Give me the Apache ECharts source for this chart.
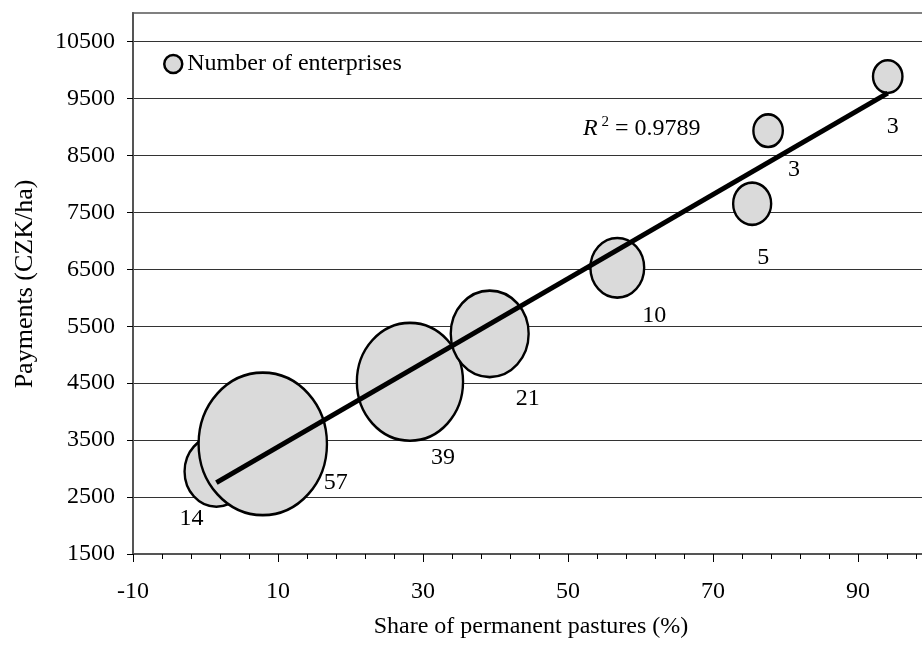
<!DOCTYPE html>
<html>
<head>
<meta charset="utf-8">
<script src="https://cdn.jsdelivr.net/npm/echarts@6/dist/echarts.min.js"></script>
<style>
html,body{margin:0;padding:0;background:#fff;}
#chart{width:922px;height:655px;}
</style>
</head>
<body>
<div id="chart"></div>
<script>
// ---- data ----
const shareOfPastures = [1.5, 7.9, 28.2, 39.2, 56.8, 75.4, 77.6, 94.1];
const payments = [2950, 3433, 4523, 5366, 6526, 7651, 8934, 9883];
const enterprises = [14, 57, 39, 21, 10, 5, 3, 3];
const yTickValues = [1500, 2500, 3500, 4500, 5500, 6500, 7500, 8500, 9500, 10500];
const xTickValues = [-10, 10, 30, 50, 70, 90];
const seriesName = 'Number of enterprises';
const rSquaredText = '0.9789';
const xTitle = 'Share of permanent pastures (%)';
const yTitle = 'Payments (CZK/ha)';

// ---- presentation ----
const FONT = '"Liberation Serif", "Times New Roman", serif';
const labelOffsets = [[-25, 47], [73, 39], [33, 76], [38, 65], [37, 48], [11, 54], [26, 39], [5, 50]];

// linear least squares trend line
const n = shareOfPastures.length;
const mx = shareOfPastures.reduce((a, b) => a + b, 0) / n;
const my = payments.reduce((a, b) => a + b, 0) / n;
let sxy = 0, sxx = 0;
for (let i = 0; i < n; i++) {
  sxy += (shareOfPastures[i] - mx) * (payments[i] - my);
  sxx += (shareOfPastures[i] - mx) ** 2;
}
const slope = sxy / sxx;
const intercept = my - slope * mx;
const xMin = Math.min(...shareOfPastures), xMax = Math.max(...shareOfPastures);
const trend = [[xMin, intercept + slope * xMin], [xMax, intercept + slope * xMax]];

const bubbleData = shareOfPastures.map((x, i) => ({
  value: [x, payments[i], enterprises[i]],
  label: { offset: labelOffsets[i] }
}));

const chart = echarts.init(document.getElementById('chart'));
chart.setOption({
  animation: false,
  backgroundColor: '#fff',
  grid: {
    left: 133, top: 13, bottom: 101, right: -81,
    outerBoundsMode: 'none', containLabel: false,
    show: true, borderColor: '#808080', borderWidth: 2
  },
  legend: {
    data: [seriesName],
    left: 163, top: 52, padding: 0,
    itemWidth: 18, itemHeight: 18,
    itemStyle: { color: '#d9d9d9', borderColor: '#000', borderWidth: 2.5 },
    textStyle: { fontFamily: FONT, fontSize: 24, color: '#000' }
  },
  xAxis: {
    type: 'value', min: -10, max: 110, interval: 20,
    axisLine: { onZero: false, lineStyle: { color: '#555', width: 2 } },
    axisTick: { length: 8, lineStyle: { color: '#000', width: 1 } },
    minorTick: { show: true, splitNumber: 5, length: 5, lineStyle: { color: '#000', width: 1 } },
    splitLine: { show: false },
    axisLabel: {
      customValues: xTickValues,
      formatter: v => String(v),
      fontFamily: FONT, fontSize: 24, color: '#000', margin: 26
    }
  },
  yAxis: {
    type: 'value', min: 1500, max: 11000, interval: 1000,
    axisLine: { show: true, onZero: false, lineStyle: { color: '#555', width: 2 } },
    axisTick: { show: true, customValues: yTickValues, length: 6, lineStyle: { color: '#000', width: 1 } },
    splitLine: { show: true, lineStyle: { color: '#333', width: 1 } },
    axisLabel: {
      customValues: yTickValues,
      formatter: v => String(v),
      fontFamily: FONT, fontSize: 24, color: '#000', margin: 18
    }
  },
  series: [
    {
      name: seriesName,
      type: 'scatter',
      symbol: 'circle',
      symbolSize: v => { const w = 17 * Math.sqrt(v[2]); return [w, w * 1.11]; },
      itemStyle: { color: '#dadada', borderColor: '#000', borderWidth: 2.5, opacity: 1 },
      label: {
        show: true, position: 'inside',
        formatter: p => String(p.value[2]),
        fontFamily: FONT, fontSize: 24, color: '#000'
      },
      emphasis: { disabled: true },
      data: bubbleData,
      z: 2
    },
    {
      name: 'Linear trend',
      type: 'line',
      data: trend,
      symbol: 'none',
      lineStyle: { color: '#000', width: 5 },
      silent: true,
      z: 3
    }
  ],
  graphic: [
    {
      type: 'text', x: 25, y: 284, rotation: Math.PI / 2,
      style: { text: yTitle, fontFamily: FONT, fontSize: 26, fill: '#000', align: 'center', verticalAlign: 'middle' }
    },
    {
      type: 'text', x: 531, y: 627,
      style: { text: xTitle, fontFamily: FONT, fontSize: 24, fill: '#000', align: 'center', verticalAlign: 'middle' }
    },
    {
      type: 'text', x: 583, y: 129, z: 10,
      style: {
        text: '{i|R}{s| 2}{t| = ' + rSquaredText + '}',
        align: 'left', verticalAlign: 'middle',
        rich: {
          i: { fontFamily: FONT, fontSize: 24, fontStyle: 'italic', fill: '#000', lineHeight: 28 },
          s: { fontFamily: FONT, fontSize: 15, fill: '#000', verticalAlign: 'top', lineHeight: 28, padding: [0, 0, 10, 0] },
          t: { fontFamily: FONT, fontSize: 24, fill: '#000', lineHeight: 28 }
        }
      }
    }
  ]
});
</script>
</body>
</html>
